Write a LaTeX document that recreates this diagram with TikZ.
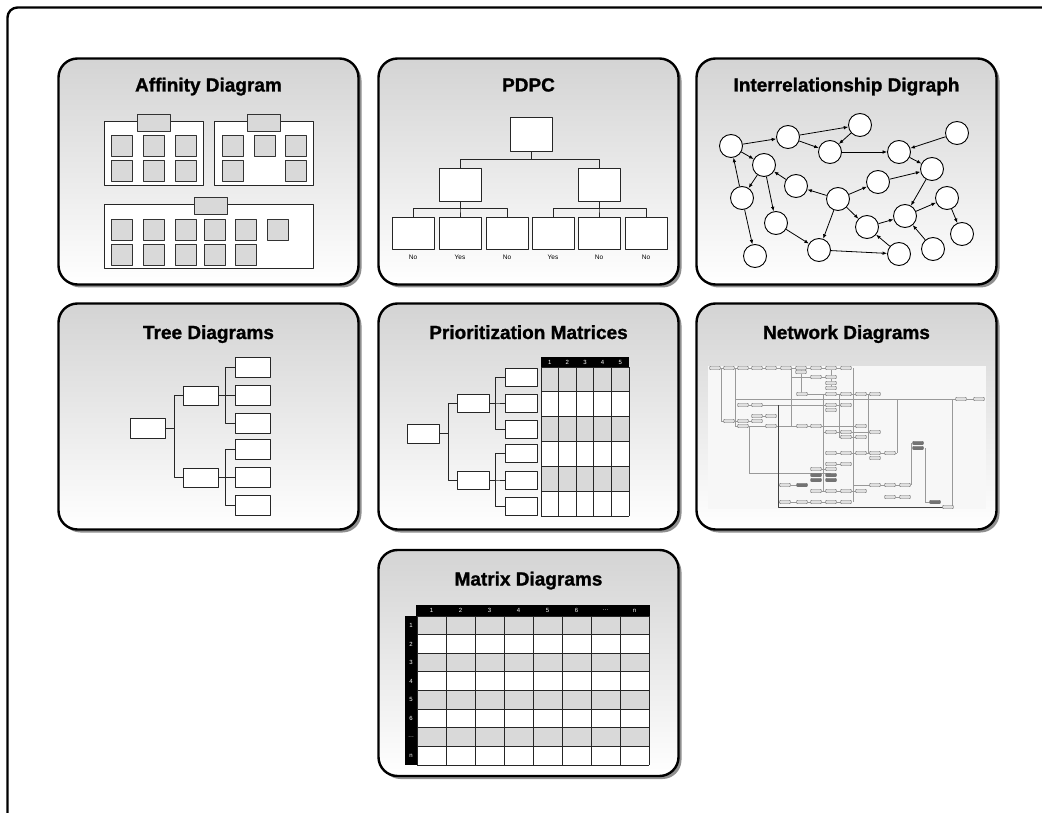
\documentclass[tikz,border=0pt]{standalone}
\usepackage{fontspec}
\setmainfont{Liberation Sans}
\newfontfamily\titlefont[FakeBold=1.2]{Liberation Sans Bold}
\usetikzlibrary{arrows.meta,positioning,shadows}
\begin{document}
\begin{tikzpicture}[x=1pt, y=-1pt, line join=round, >={Latex[length=4.5pt,width=3.6pt]},
    panel/.style={draw, line width=2.4pt, rounded corners=19pt, top color=black!17, bottom color=white,
      minimum width=300pt, minimum height=226pt,
      drop shadow={shadow xshift=3pt, shadow yshift=-3pt, fill=black!55, opacity=0.8}},
    paneltitle/.style={font=\titlefont\fontsize{19}{22}\selectfont, anchor=base, inner sep=0pt},
    card/.style={draw=black!80, line width=0.9pt, fill=black!15, inner sep=0pt, minimum width=21pt, minimum height=21pt},
    tag/.style={card, minimum width=33pt, minimum height=17pt},
    group/.style={draw=black!85, line width=0.9pt, fill=white, inner sep=0pt, minimum height=64pt},
    box/.style={draw=black!85, line width=0.9pt, fill=white, inner sep=0pt},
    wire/.style={line width=0.9pt, black!85},
    answer/.style={font=\fontsize{6.5}{7}\selectfont, inner sep=0pt},
    issue/.style={circle, draw, line width=0.9pt, fill=white, minimum size=23pt, inner sep=0pt},
    hdr/.style={font=\fontsize{6}{7}\selectfont, text=white, inner sep=0pt},
    nbox/.style={draw=black!55, fill=black!12, line width=0.4pt, rounded corners=1pt, minimum width=11pt, minimum height=3.5pt, inner sep=0pt},
    nboxdark/.style={nbox, fill=black!55}]
\useasboundingbox (0,0) rectangle (1042,813);
\draw[line width=2.4pt, rounded corners=10pt] (7.5,813) -- (7.5,7.5) -- (1042,7.5);
\node[panel] (aff) at (208.5,171.5) {};
\node[panel] (pdpc) at (528.5,171.5) {};
\node[panel] (digraph) at (846.5,171.5) {};
\node[panel] (tree) at (208.5,416.5) {};
\node[panel] (prio) at (528.5,416.5) {};
\node[panel] (net) at (846.5,416.5) {};
\node[panel] (mat) at (528.5,663) {};
\node[paneltitle] (afftitle) at (208.5,91.5) {Affinity Diagram};
\node[paneltitle] (pdpctitle) at (528.5,91.5) {PDPC};
\node[paneltitle] (digraphtitle) at (846.5,91.5) {Interrelationship Digraph};
\node[paneltitle] (treetitle) at (208.5,339) {Tree Diagrams};
\node[paneltitle] (priotitle) at (528.5,339) {Prioritization Matrices};
\node[paneltitle] (nettitle) at (846.5,339) {Network Diagrams};
\node[paneltitle] (mattitle) at (528.5,585.5) {Matrix Diagrams};
\node[group, minimum width=99pt] (ga) at (153.5,153) {};
\node[group, minimum width=99pt] (gb) at (263.5,153) {};
\node[group, minimum width=209pt] (gc) at (208.5,236) {};
\node[tag] (ta) at (153.5,122.5) {};
\node[tag] (tb) at (264,122.5) {};
\node[tag] (tc) at (211,205.5) {};
\foreach \x [count=\i] in {121.5,153.5,185.5}
  \foreach \y [count=\j] in {145.5,170.5}
    \node[card] (ca\i\j) at (\x,\y) {};
\foreach \x/\y [count=\i] in {232.5/145.5, 264.5/145.5, 295.5/145.5, 232.5/170.5, 295.5/170.5}
  \node[card] (cb\i) at (\x,\y) {};
\foreach \x [count=\i] in {121.5,153.5,185.5,214.5,245.5,277.5}
  \node[card] (cc\i) at (\x,229.5) {};
\foreach \x [count=\i] in {121.5,153.5,185.5,214.5,245.5}
  \node[card] (cd\i) at (\x,254.5) {};
\node[box, minimum width=42pt, minimum height=34pt] (p0) at (531,134) {};
\node[box, minimum width=42pt, minimum height=33pt] (p1) at (460,184.5) {};
\node[box, minimum width=42pt, minimum height=33pt] (p2) at (599,184.5) {};
\foreach \x/\a [count=\i] in {413/No, 460/Yes, 507/No, 553/Yes, 599/No, 646/No} {
  \node[box, minimum width=42pt, minimum height=32pt] (q\i) at (\x,233) {};
  \node[answer, below=5pt of q\i] (qa\i) {\a};
}
\draw[wire] (p0.south) -- ++(0,8) -| (p1.north);
\draw[wire] (p0.south) -- ++(0,8) -| (p2.north);
\foreach \i in {1,2,3} \draw[wire] (p1.south) -- ++(0,7) -| (q\i.north);
\foreach \i in {4,5,6} \draw[wire] (p2.south) -- ++(0,7) -| (q\i.north);
\foreach \x/\y [count=\i] in {731/146, 788/137, 860/125, 830/152, 957/133, 899/152, 764/165,
    932/169, 796/186, 878/182, 742/198, 838/199, 947/198, 776/223, 867/227, 905/216,
    962/234, 819/250, 755/256, 899/254, 933/249}
  \node[issue] (d\i) at (\x,\y) {};
\foreach \a/\b in {1/2, 2/3, 3/4, 2/4, 4/6, 5/6, 6/8, 1/7, 11/1, 7/11, 7/14, 11/19, 12/9, 9/7,
    12/10, 10/8, 12/15, 12/18, 8/16, 15/16, 16/13, 13/17, 21/16, 20/15, 14/18, 18/20}
  \draw[->, line width=0.8pt] (d\a) -- (d\b);
\node[box, minimum width=35pt, minimum height=20pt] (tr) at (147.5,428) {};
\node[box, minimum width=35pt, minimum height=19pt] (tm1) at (200.5,395.5) {};
\node[box, minimum width=35pt, minimum height=19pt] (tm2) at (200.5,477.5) {};
\foreach \y [count=\i] in {367,395.5,423,449,477.5,505.5}
  \node[box, minimum width=35pt, minimum height=20pt] (tl\i) at (252.5,\y) {};
\draw[wire] (tr.east) -- ++(9,0) |- (tm1.west);
\draw[wire] (tr.east) -- ++(9,0) |- (tm2.west);
\foreach \i in {1,2,3} \draw[wire] (tm1.east) -- ++(7,0) |- (tl\i.west);
\foreach \i in {4,5,6} \draw[wire] (tm2.east) -- ++(7,0) |- (tl\i.west);
\node[box, minimum width=32pt, minimum height=19pt] (pr) at (423,433.5) {};
\node[box, minimum width=32pt, minimum height=18pt] (pm1) at (473,403) {};
\node[box, minimum width=32pt, minimum height=18pt] (pm2) at (473,480) {};
\foreach \y [count=\i] in {377,403,429,453.5,480,506}
  \node[box, minimum width=32pt, minimum height=18pt] (pl\i) at (521,\y) {};
\draw[wire] (pr.east) -- ++(9,0) |- (pm1.west);
\draw[wire] (pr.east) -- ++(9,0) |- (pm2.west);
\foreach \i in {1,2,3} \draw[wire] (pm1.east) -- ++(6,0) |- (pl\i.west);
\foreach \i in {4,5,6} \draw[wire] (pm2.east) -- ++(6,0) |- (pl\i.west);
\fill (541,357) rectangle (629,367);
\fill[white] (541,367) rectangle (629,516);
\foreach \r in {0,2,4} \fill[black!15] (541,{367+24.83*\r}) rectangle (629,{367+24.83*(\r+1)});
\foreach \r in {0,...,6} \draw[wire] (541,{367+24.83*\r}) -- (629,{367+24.83*\r});
\foreach \c in {0,...,5} \draw[wire] ({541+17.6*\c},367) -- ({541+17.6*\c},516);
\foreach \c in {1,...,5} \node[hdr] (ph\c) at ({541+17.6*\c-8.8},362) {\c};
\fill (416,605) rectangle (650,616);
\fill (405,616) rectangle (417,765);
\fill[white] (417,616) rectangle (649,765);
\foreach \r in {0,2,4,6} \fill[black!15] (417,{616+18.625*\r}) rectangle (649,{616+18.625*(\r+1)});
\foreach \r in {0,...,8} \draw[wire] (417,{616+18.625*\r}) -- (649,{616+18.625*\r});
\foreach \c in {0,...,8} \draw[wire] ({417+29*\c},616) -- ({417+29*\c},765);
\foreach \t [count=\c] in {1,2,3,4,5,6,\dots,n} \node[hdr] (mh\c) at ({417+29*\c-14.5},610.5) {\t};
\foreach \t [count=\r] in {1,2,3,4,5,6,\dots,n} \node[hdr] (mr\r) at (411,{616+18.625*\r-9.3}) {\t};
\fill[black!3] (708,366) rectangle (986,509);
\draw[black!40, line width=0.5pt]
  (715,368) -- (848,368) (791,377) -- (831,377) (802,394) -- (875,394)
  (735,399) -- (979,399) (743,405) -- (846,405) (757,416) -- (771,416)
  (721,421) -- (757,421) (735,426) -- (861,426) (823,432) -- (875,432)
  (839,437) -- (861,437) (831,453) -- (897,453) (831,464) -- (846,464)
  (749,473) -- (831,473) (816,469) -- (831,469) (778,485) -- (802,485)
  (853,485) -- (911,485) (816,491) -- (861,491) (890,497) -- (905,497)
  (778,502) -- (846,502) (925,502) -- (935,502)
  (721,368) -- (721,421) (735,368) -- (735,426) (749,426) -- (749,473)
  (791,368) -- (791,426) (823,394) -- (823,491) (839,394) -- (839,437)
  (853,368) -- (853,502) (868,394) -- (868,453) (897,399) -- (897,453)
  (911,443) -- (911,485) (925,448) -- (925,502) (952,399) -- (952,507)
  (801,368) -- (801,394) (831,368) -- (831,388);
\draw[black!75, line width=0.6pt] (778,405) -- (778,507) -- (948,507);
\foreach \x/\y [count=\i] in {715/368, 729/368, 743/368, 757/368, 771/368, 786/368, 801/368,
    816/368, 831/368, 846/368, 801/372, 816/377, 831/377, 831/383, 831/388, 802/394, 831/394,
    846/394, 861/394, 875/394, 961/399, 979/399, 743/405, 757/405, 831/405, 846/405, 831/410,
    757/416, 771/416, 729/421, 743/421, 757/421, 743/426, 771/426, 802/426, 816/426, 861/426,
    831/432, 846/432, 875/432, 846/437, 861/437, 831/453, 846/453, 861/453, 875/453, 890/453,
    875/458, 831/464, 846/464, 816/469, 831/469, 785/485, 875/485, 890/485, 905/485,
    816/491, 831/491, 846/491, 861/491, 890/497, 905/497, 785/502, 802/502, 816/502, 831/502,
    846/502, 948/507}
  \node[nbox] (n\i) at (\x,\y) {};
\foreach \x/\y [count=\i] in {918/443, 918/448, 816/475, 831/475, 816/480, 831/480, 802/485, 935/502}
  \node[nboxdark] (k\i) at (\x,\y) {};
\end{tikzpicture}
\end{document}
